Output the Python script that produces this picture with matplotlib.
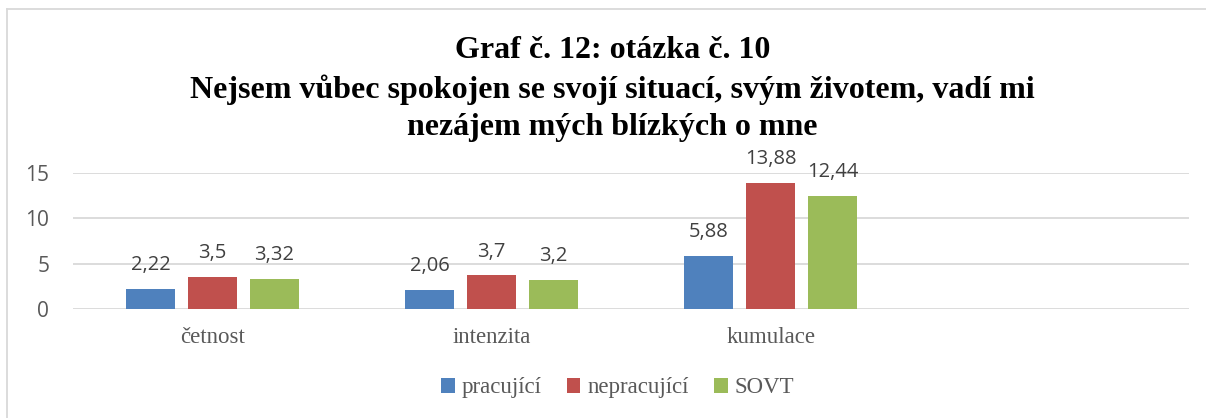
import matplotlib
matplotlib.use('Agg')
import matplotlib.pyplot as plt
from matplotlib.lines import Line2D
import numpy as np

# data
categories = ['četnost', 'intenzita', 'kumulace', '']
series = ['pracující', 'nepracující', 'SOVT']
pracujici = [2.22, 2.06, 5.88, None]
nepracujici = [3.5, 3.7, 13.88, None]
sovt = [3.32, 3.2, 12.44, None]
labels = ['2,22', '2,06', '5,88', '3,5', '3,7', '13,88', '3,32', '3,2', '12,44']
colors = ['#4F81BD', '#C0504D', '#9BBB59']

serif = ['Liberation Serif', 'DejaVu Serif']
sans = ['Open Sans', 'DejaVu Sans']

fig = plt.figure(figsize=(12.06, 4.18), dpi=100)
ax = fig.add_axes([0.0605, 0.2608, 0.9255, 0.3254])

x = np.arange(len(categories))
w = 0.176
step = 0.222
all_vals = [pracujici, nepracujici, sovt]
k = 0
for i, vals in enumerate(all_vals):
    xs = [xx + (i - 1) * step for xx, v in zip(x, vals) if v is not None]
    vs = [v for v in vals if v is not None]
    bars = ax.bar(xs, vs, width=w, color=colors[i], label=series[i], zorder=3)
    for b, v in zip(bars, vs):
        ax.annotate(labels[k], (b.get_x() + b.get_width() / 2, v),
                    xytext=(0, 10), textcoords='offset points',
                    ha='center', va='bottom', fontsize=14.5, color='#404040',
                    family=sans, annotation_clip=False)
        k += 1

ax.set_xlim(-0.5, len(categories) - 0.5)
ax.set_ylim(0, 15)
ax.set_yticks([0, 5, 10, 15])
ax.yaxis.grid(True, color='#d9d9d9', linewidth=1.3, zorder=0)
ax.set_axisbelow(True)
for s in ax.spines.values():
    s.set_visible(False)
ax.tick_params(axis='both', length=0)
ax.tick_params(axis='y', labelsize=15, labelcolor='#595959', pad=17)
for t in ax.get_yticklabels():
    t.set_family(sans)
ax.set_xticks(x)
ax.set_xticklabels(categories, fontsize=16.5, color='#595959', family=serif)
ax.tick_params(axis='x', pad=13)

title_lines = ['Graf č. 12: otázka č. 10',
               'Nejsem vůbec spokojen se svojí situací, svým životem, vadí mi',
               'nezájem mých blízkých o mne']
for line, yy in zip(title_lines, [0.88, 0.786, 0.694]):
    fig.text(0.508, yy, line, ha='center', va='center',
             fontsize=23, fontweight='bold', family=serif)

leg = fig.legend(loc='center', bbox_to_anchor=(0.512, 0.072), ncol=3, frameon=False,
                 prop={'family': serif, 'size': 16.5}, handlelength=0.6,
                 handleheight=0.6, handletextpad=0.3, columnspacing=1.1)
for t in leg.get_texts():
    t.set_color('#595959')

# chart border (left and top edges only are inside the image)
fig.add_artist(Line2D([0.0058, 0.0058], [0, 0.978], transform=fig.transFigure,
                      color='#d9d9d9', linewidth=1.3))
fig.add_artist(Line2D([0.0058, 1.0], [0.978, 0.978], transform=fig.transFigure,
                      color='#d9d9d9', linewidth=1.3))

plt.savefig('out.png', dpi=100)
